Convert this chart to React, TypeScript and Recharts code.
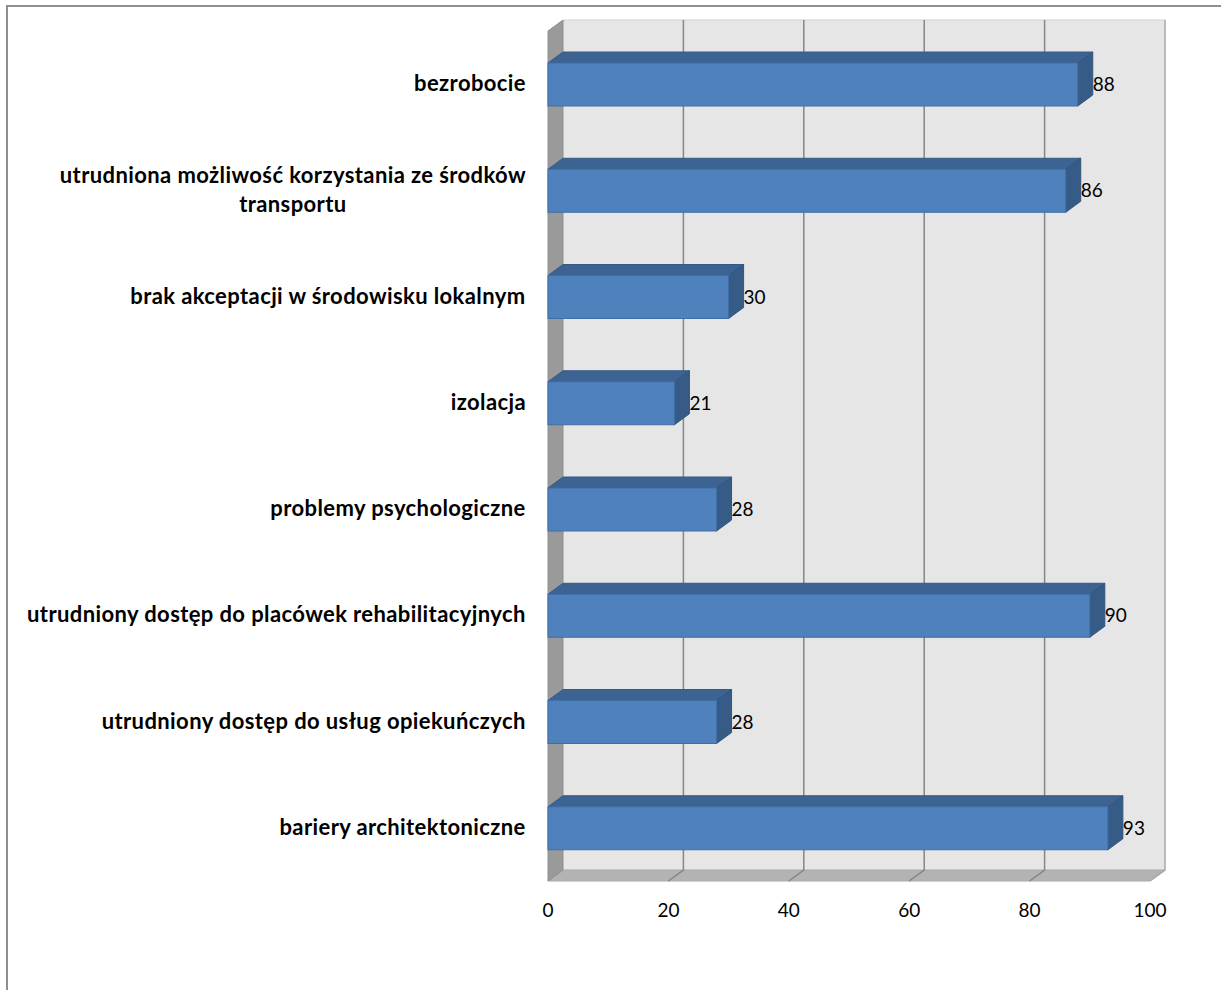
import React from "react";
import { BarChart, Bar, XAxis, YAxis, ReferenceArea, LabelList } from "recharts";

// categories top -> bottom, "\n" marks a wrapped label
const categories = [
  "bezrobocie",
  "utrudniona możliwość korzystania ze środków\ntransportu",
  "brak akceptacji w środowisku lokalnym",
  "izolacja",
  "problemy psychologiczne",
  "utrudniony dostęp do placówek rehabilitacyjnych",
  "utrudniony dostęp do usług opiekuńczych",
  "bariery architektoniczne",
];
const values = [88, 86, 30, 21, 28, 90, 28, 93];
const xTicks = [0, 20, 40, 60, 80, 100];

const data = categories.map((name, i) => ({ name, value: values[i] }));

// 3d depth of the excel-like box
const DX = 15;
const DY = 11;
const LABEL_SIZE = 22;
const LABEL_SPACING = 0.4;

let ctx: CanvasRenderingContext2D | null = null;
const measure = (s: string) => {
  if (!ctx) ctx = document.createElement("canvas").getContext("2d");
  if (!ctx) return s.length * 11;
  ctx.font = `bold ${LABEL_SIZE}px Lato`;
  return ctx.measureText(s).width + s.length * LABEL_SPACING;
};

const CategoryTick = (props: any) => {
  const { x, y, payload } = props;
  const lines = String(payload.value).split("\n");
  const maxW = Math.max(...lines.map((l) => measure(l)));
  const cx = x - maxW / 2;
  return (
    <text
      textAnchor="middle"
      fontFamily="Lato"
      fontWeight="bold"
      fontSize={LABEL_SIZE}
      letterSpacing={LABEL_SPACING}
      fill="#000"
    >
      {lines.map((l, i) => (
        <tspan key={i} x={cx} y={y + 7 + (i - (lines.length - 1) / 2) * 29}>
          {l}
        </tspan>
      ))}
    </text>
  );
};

const ValueTick = (props: any) => {
  const { x, y, payload } = props;
  return (
    <text x={x} y={y + 36} textAnchor="middle" fontFamily="Lato" fontSize={19} fill="#000">
      {payload.value}
    </text>
  );
};

const WallSegment = (props: any) => {
  const { x, y, width, height, first, last } = props;
  const b = y + height;
  return (
    <g>
      <rect x={x + DX} y={y - DY} width={width} height={height} fill="#e6e6e6" />
      <polygon
        points={`${x},${b} ${x + DX},${b - DY} ${x + width + DX},${b - DY} ${x + width},${b}`}
        fill="#b3b3b3"
        stroke="#a8a8a8"
        strokeWidth={1}
      />
      <line x1={x + DX} y1={y - DY} x2={x + width + DX} y2={y - DY} stroke="#d0d0d0" />
      {first ? (
        <polygon
          points={`${x},${y} ${x + DX},${y - DY} ${x + DX},${b - DY} ${x},${b}`}
          fill="#9a9a9a"
          stroke="#8f8f8f"
          strokeWidth={1}
        />
      ) : (
        <polyline
          points={`${x + DX},${y - DY} ${x + DX},${b - DY} ${x},${b}`}
          fill="none"
          stroke="#868686"
          strokeWidth={1.5}
        />
      )}
      {last && (
        <polyline
          points={`${x + width + DX},${y - DY} ${x + width + DX},${b - DY} ${x + width},${b}`}
          fill="none"
          stroke="#a8a8a8"
          strokeWidth={1.5}
        />
      )}
    </g>
  );
};

const Box = (props: any) => {
  const { x, y, width, height } = props;
  if (!width) return null;
  const r = x + width;
  const b = y + height;
  return (
    <g>
      <polygon
        points={`${x},${y} ${x + DX},${y - DY} ${r + DX},${y - DY} ${r},${y}`}
        fill="#3c6392"
        stroke="#365a86"
        strokeWidth={1}
      />
      <polygon
        points={`${r},${y} ${r + DX},${y - DY} ${r + DX},${b - DY} ${r},${b}`}
        fill="#375b87"
        stroke="#33547d"
        strokeWidth={1}
      />
      <rect x={x} y={y} width={width} height={height} fill="#4f81bd" stroke="#3f6ea6" strokeWidth={1} />
    </g>
  );
};

const App = () => {
  return (
    <div
      style={{
        position: "absolute",
        left: 0,
        top: 0,
        width: 1221,
        height: 990,
        overflow: "hidden",
        background: "#fff",
      }}
    >
      <div
        style={{
          position: "absolute",
          left: 6,
          top: 5,
          width: 1400,
          height: 1200,
          borderLeft: "2px solid #8f8f8f",
          borderTop: "2px solid #8f8f8f",
        }}
      />
      <div style={{ position: "absolute", left: 0, top: 0 }}>
        <BarChart
          width={1221}
          height={990}
          data={data}
          layout="vertical"
          margin={{ top: 31, right: 71, bottom: 69, left: 0 }}
          barSize={43}
        >
          {xTicks.slice(0, -1).map((t, i) => (
            <ReferenceArea
              key={t}
              x1={t}
              x2={xTicks[i + 1]}
              fillOpacity={1}
              shape={(p: any) => (
                <WallSegment {...p} first={i === 0} last={i === xTicks.length - 2} />
              )}
            />
          ))}
          <XAxis
            type="number"
            domain={[0, 100]}
            ticks={xTicks}
            tickLine={false}
            axisLine={false}
            tickSize={0}
            tickMargin={0}
            height={40}
            tick={<ValueTick />}
          />
          <YAxis
            type="category"
            dataKey="name"
            width={548}
            tickLine={false}
            axisLine={false}
            tickSize={0}
            tickMargin={22}
            interval={0}
            tick={<CategoryTick />}
          />
          <Bar dataKey="value" shape={<Box />} isAnimationActive={false}>
            <LabelList
              dataKey="value"
              position="right"
              offset={15}
              fill="#000"
              fontSize={19}
              fontFamily="Lato"
            />
          </Bar>
        </BarChart>
      </div>
    </div>
  );
};

export default App;
